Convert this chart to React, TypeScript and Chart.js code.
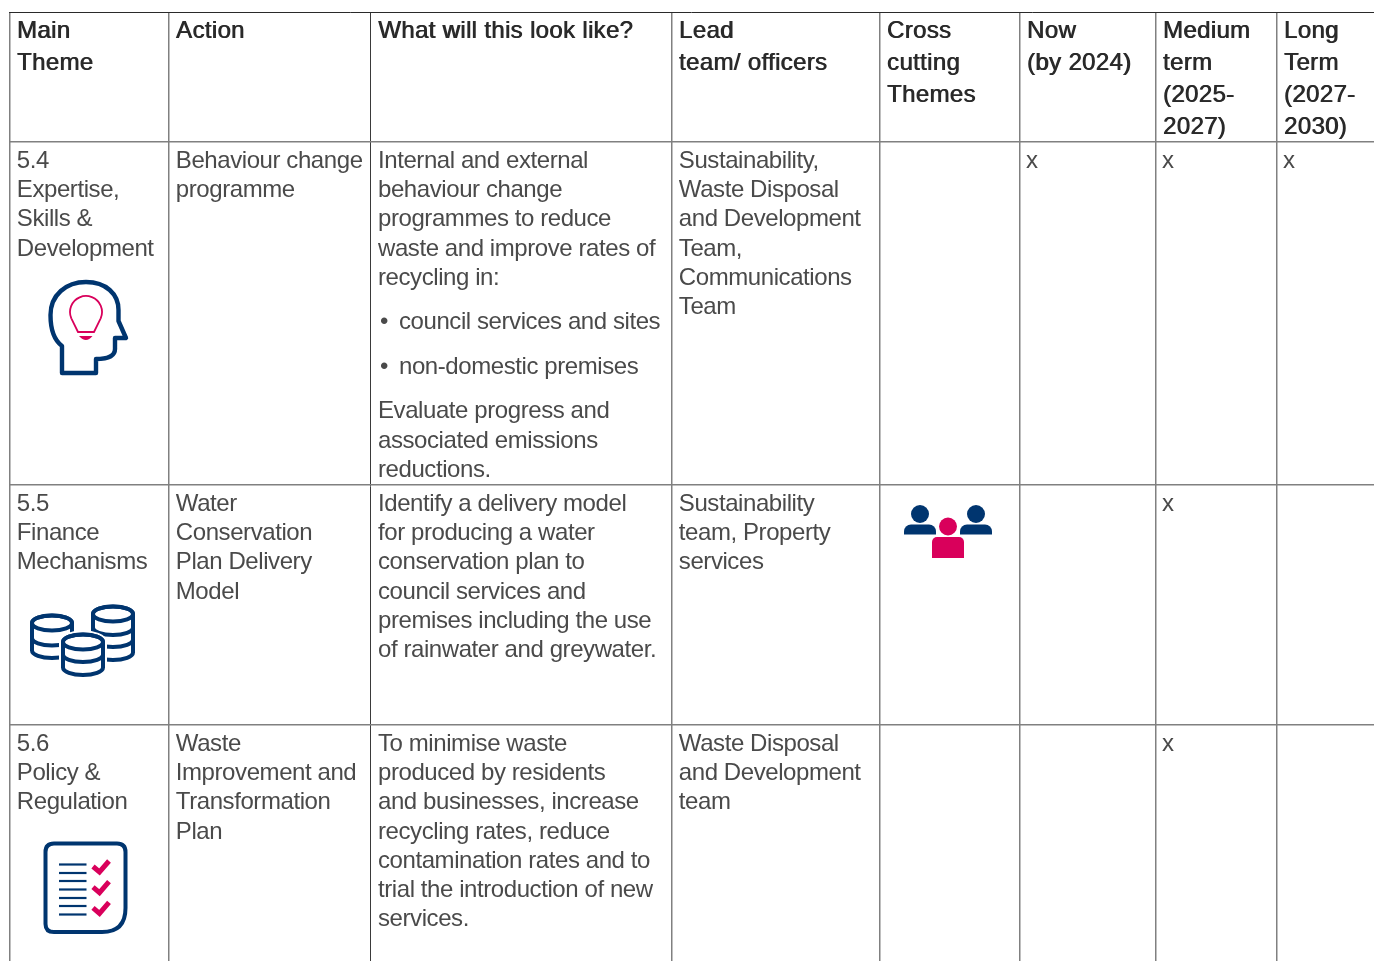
import React, { useEffect, useRef } from "react";
import { Chart, registerables } from "chart.js";

Chart.register(...registerables);

const columnEdges = [10, 169, 370, 672, 880, 1020, 1156, 1277];
const rowEdges = [12, 142, 485, 725];

const headers: string[][] = [
  ["Main", "Theme"],
  ["Action"],
  ["What will this look like?"],
  ["Lead", "team/ officers"],
  ["Cross", "cutting", "Themes"],
  ["Now", "(by 2024)"],
  ["Medium", "term", "(2025-", "2027)"],
  ["Long", "Term", "(2027-", "2030)"],
];

const themeCells = [
  ["5.4", "Expertise,", "Skills &", "Development"],
  ["5.5", "Finance", "Mechanisms"],
  ["5.6", "Policy &", "Regulation"],
];
const actionCells = [
  ["Behaviour change", "programme"],
  ["Water", "Conservation", "Plan Delivery", "Model"],
  ["Waste", "Improvement and", "Transformation", "Plan"],
];
const lookLikeIntro = [
  ["Internal and external", "behaviour change", "programmes to reduce", "waste and improve rates of", "recycling in:"],
  ["Identify a delivery model", "for producing a water", "conservation plan to", "council services and", "premises including the use", "of rainwater and greywater."],
  ["To minimise waste", "produced by residents", "and businesses, increase", "recycling rates, reduce", "contamination rates and to", "trial the introduction of new", "services."],
];
const lookLikeBullets = [["council services and sites", "non-domestic premises"], [], []];
const lookLikeOutro = [["Evaluate progress and", "associated emissions", "reductions."], [], []];
const leadCells = [
  ["Sustainability,", "Waste Disposal", "and Development", "Team,", "Communications", "Team"],
  ["Sustainability", "team, Property", "services"],
  ["Waste Disposal", "and Development", "team"],
];
const nowMarks = [1, 0, 0];
const mediumMarks = [1, 1, 1];
const longMarks = [1, 0, 0];

const NAVY = "#00356f";
const PINK = "#d9005b";
const BODY_FONT = '24px "Liberation Sans"';
const HEAD_FONT = '24px "Liberation Sans"';
const BODY_COLOR = "#4a4a4a";
const HEAD_COLOR = "#2a2a2a";
const BODY_LINE = 29.25;
const HEAD_LINE = 32;
const PARA_GAP = 15.3;
const FIRST_BASE = 25.8;
const HEAD_BASE = 26.4;
const padFor = (col: number) => (col === 2 ? 8 : 6.8);

function stack(c: CanvasRenderingContext2D, cx: number, top: number, arcs: number[]) {
  const rx = 20, ry = 7.5;
  const last = arcs[arcs.length - 1];
  const outline = () => {
    c.beginPath();
    c.moveTo(cx - rx, top);
    c.lineTo(cx - rx, last);
    c.ellipse(cx, last, rx, ry, 0, Math.PI, 0, true);
    c.lineTo(cx + rx, top);
    c.ellipse(cx, top, rx, ry, 0, 0, Math.PI, true);
    c.closePath();
  };
  const width = c.lineWidth;
  c.strokeStyle = "#ffffff";
  c.fillStyle = "#ffffff";
  c.lineWidth = width + 4;
  outline();
  c.fill();
  c.stroke();
  c.strokeStyle = NAVY;
  c.lineWidth = width;
  outline();
  c.stroke();
  c.beginPath();
  c.ellipse(cx, top, rx, ry, 0, 0, Math.PI * 2);
  c.stroke();
  arcs.slice(0, -1).forEach((y) => {
    c.beginPath();
    c.ellipse(cx, y, rx, ry, 0, Math.PI, 0, true);
    c.stroke();
  });
}

function drawIcons(c: CanvasRenderingContext2D) {
  c.save();
  c.lineJoin = "round";
  c.lineCap = "round";
  // Head with light bulb
  c.strokeStyle = NAVY;
  c.lineWidth = 4.4;
  c.beginPath();
  c.moveTo(62, 373);
  c.lineTo(62, 346);
  c.bezierCurveTo(54, 340, 50.5, 330, 50.5, 315);
  c.bezierCurveTo(50.5, 295, 66, 282, 86, 282);
  c.bezierCurveTo(106, 282, 118.5, 294, 118.5, 310);
  c.lineTo(118.5, 321);
  c.lineTo(126, 338);
  c.lineTo(115, 338);
  c.lineTo(115, 349);
  c.bezierCurveTo(115, 356, 109, 359, 96, 359);
  c.lineTo(96, 373);
  c.closePath();
  c.stroke();
  c.strokeStyle = PINK;
  c.lineWidth = 1.8;
  c.beginPath();
  c.arc(86, 312, 16, Math.PI * 0.87, Math.PI * 0.13);
  c.lineTo(94, 332);
  c.lineTo(78, 332);
  c.closePath();
  c.stroke();
  c.fillStyle = PINK;
  c.beginPath();
  c.moveTo(79, 336);
  c.lineTo(92.5, 336);
  c.quadraticCurveTo(86, 344, 79, 336);
  c.fill();

  // Coins
  c.lineWidth = 4;
  stack(c, 52, 623, [638, 650.5]);
  stack(c, 113, 614, [627.5, 639.5, 652.5]);
  stack(c, 83, 642, [654.5, 667.5]);

  // People
  c.fillStyle = NAVY;
  for (const [hx, bx] of [[920, 904], [976, 960]]) {
    c.beginPath();
    c.arc(hx, 514, 9, 0, Math.PI * 2);
    c.fill();
    c.beginPath();
    c.roundRect(bx, 524.5, 32, 10, [7, 7, 0, 0]);
    c.fill();
  }
  c.fillStyle = PINK;
  c.beginPath();
  c.arc(948, 526.5, 9, 0, Math.PI * 2);
  c.fill();
  c.beginPath();
  c.roundRect(932, 537, 32, 21, [5, 5, 0, 0]);
  c.fill();

  // Document with ticks
  c.strokeStyle = NAVY;
  c.lineWidth = 4;
  c.beginPath();
  c.moveTo(54, 843.5);
  c.lineTo(117, 843.5);
  c.quadraticCurveTo(125.5, 843.5, 125.5, 852);
  c.lineTo(125.5, 908);
  c.quadraticCurveTo(125.5, 932, 102, 932);
  c.lineTo(54, 932);
  c.quadraticCurveTo(45.5, 932, 45.5, 924);
  c.lineTo(45.5, 852);
  c.quadraticCurveTo(45.5, 843.5, 54, 843.5);
  c.closePath();
  c.stroke();
  c.lineWidth = 2.2;
  c.lineCap = "butt";
  for (const y of [864.5, 873, 881, 889.5, 898, 906, 914.5]) {
    c.beginPath();
    c.moveTo(59, y);
    c.lineTo(86.5, y);
    c.stroke();
  }
  c.strokeStyle = PINK;
  c.lineWidth = 5;
  c.lineCap = "butt";
  c.lineJoin = "miter";
  for (const dy of [0, 20.7, 41.4]) {
    c.beginPath();
    c.moveTo(93, 866.5 + dy);
    c.lineTo(99.5, 872 + dy);
    c.lineTo(109, 861 + dy);
    c.stroke();
  }
  c.restore();
}

const tablePlugin = {
  id: "tableCells",
  afterDatasetsDraw(chart: any) {
    const c: any = chart.ctx;
    const xs = chart.scales.x;
    const ys = chart.scales.y;
    const left = (i: number) => xs.getPixelForValue(columnEdges[i]) + padFor(i);
    const top = (i: number) => ys.getPixelForValue(rowEdges[i]);
    c.save();
    c.textBaseline = "alphabetic";
    c.font = HEAD_FONT;
    c.fillStyle = HEAD_COLOR;
    c.letterSpacing = "0.33px";
    c.shadowColor = HEAD_COLOR;
    c.shadowBlur = 0;
    c.shadowOffsetX = 0.8;
    c.shadowOffsetY = 0;
    headers.forEach((lines, col) => {
      lines.forEach((t, k) => c.fillText(t, left(col), top(0) + HEAD_BASE + k * HEAD_LINE));
    });
    c.shadowColor = "transparent";
    c.shadowOffsetX = 0;
    c.font = BODY_FONT;
    c.fillStyle = BODY_COLOR;
    c.letterSpacing = "-0.42px";
    const plain = (cells: string[][], col: number) =>
      cells.forEach((lines, r) =>
        lines.forEach((t, k) => c.fillText(t, left(col), top(r + 1) + FIRST_BASE + k * BODY_LINE))
      );
    plain(themeCells, 0);
    plain(actionCells, 1);
    plain(leadCells, 3);
    lookLikeIntro.forEach((intro, r) => {
      let y = top(r + 1) + FIRST_BASE;
      intro.forEach((t) => {
        c.fillText(t, left(2), y);
        y += BODY_LINE;
      });
      lookLikeBullets[r].forEach((t) => {
        y += PARA_GAP;
        c.fillText("•", left(2) + 2, y);
        c.fillText(t, left(2) + 21, y);
        y += BODY_LINE;
      });
      if (lookLikeOutro[r].length) y += PARA_GAP;
      lookLikeOutro[r].forEach((t) => {
        c.fillText(t, left(2), y);
        y += BODY_LINE;
      });
    });
    chart.getDatasetMeta(0).data.forEach((pt: any) => {
      c.fillText("x", pt.x, pt.y);
    });
    c.restore();
    drawIcons(c);
  },
};

export default function App() {
  const ref = useRef<HTMLCanvasElement>(null);
  useEffect(() => {
    const marks: { x: number; y: number }[] = [];
    [
      [nowMarks, 5],
      [mediumMarks, 6],
      [longMarks, 7],
    ].forEach(([list, col]: any) =>
      list.forEach((m: number, r: number) => {
        if (m) marks.push({ x: columnEdges[col] + padFor(col) - 0.8, y: rowEdges[r + 1] + FIRST_BASE });
      })
    );
    const chart = new Chart(ref.current!, {
      type: "scatter",
      data: { datasets: [{ data: marks, pointRadius: 0, pointHoverRadius: 0 }] },
      options: {
        animation: false,
        responsive: false,
        events: [],
        layout: { padding: { left: 9, top: 12, right: 0, bottom: 0 } },
        plugins: { legend: { display: false }, tooltip: { enabled: false }, title: { display: false } },
        scales: {
          x: {
            type: "linear",
            min: 9,
            max: 1374,
            border: { display: false },
            ticks: { display: false },
            afterBuildTicks: (s: any) => {
              s.ticks = columnEdges.map((value) => ({ value }));
            },
            grid: {
              color: (ctx: any) => (ctx.index === 2 ? "#3a3a3a" : "#808080"),
              lineWidth: (ctx: any) => (ctx.index === 2 ? 1 : 1.5),
              drawTicks: false,
            },
          },
          y: {
            type: "linear",
            reverse: true,
            min: 12,
            max: 961,
            border: { display: false },
            ticks: { display: false },
            afterBuildTicks: (s: any) => {
              s.ticks = rowEdges.map((value) => ({ value }));
            },
            grid: {
              color: (ctx: any) => (ctx.index === 0 ? "#2a2a2a" : "#808080"),
              lineWidth: (ctx: any) => (ctx.index === 0 ? 1 : 1.5),
              drawTicks: false,
            },
          },
        },
      },
      plugins: [tablePlugin],
    } as any);
    return () => chart.destroy();
  }, []);
  return (
    <div style={{ position: "fixed", left: 0, top: 0, width: 1374, height: 961, background: "#fff" }}>
      <canvas ref={ref} width={1374} height={961} style={{ display: "block" }} />
    </div>
  );
}
